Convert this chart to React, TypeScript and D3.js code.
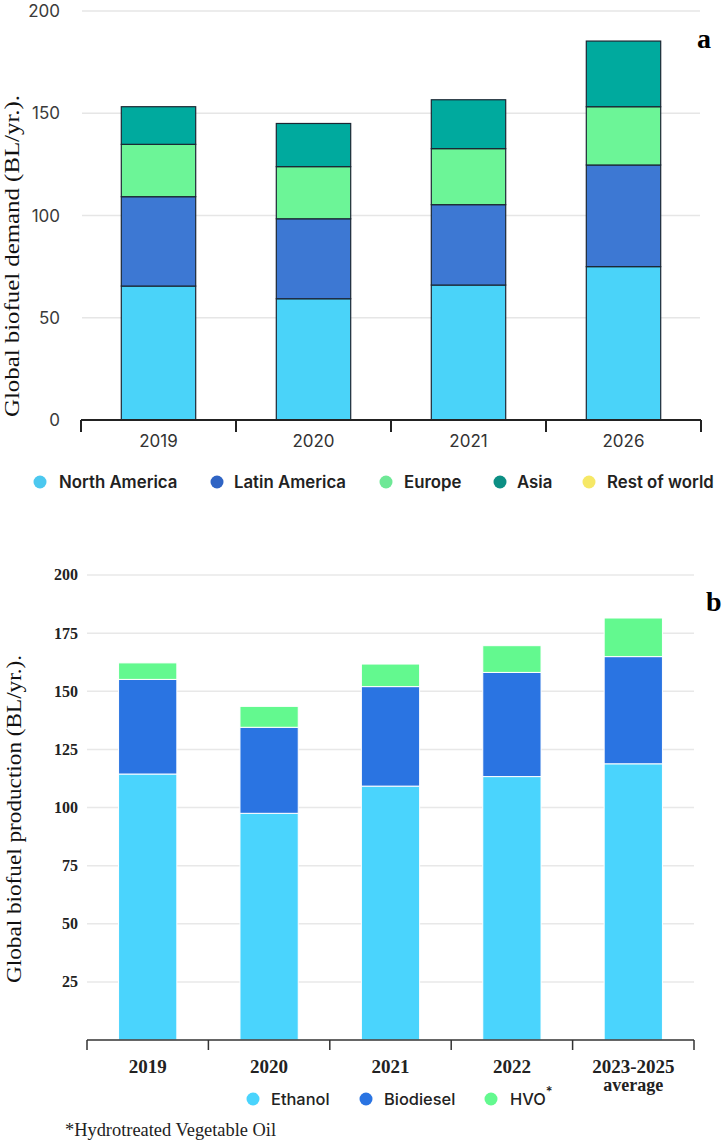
import React from "react";
import * as d3 from "d3";

// ---- Panel a: Global biofuel demand by region ----
const yearsA = ["2019", "2020", "2021", "2026"];
const regions = ["North America", "Latin America", "Europe", "Asia", "Rest of world"];
const northAmerica = [65.5, 59.3, 66, 75];
const latinAmerica = [43.7, 39.1, 39.3, 49.7];
const europe = [25.6, 25.5, 27.4, 28.5];
const asia = [18.4, 21.1, 23.9, 32.1];
const restOfWorld = [0, 0, 0, 0];
const ticksA = [0, 50, 100, 150, 200];
const regionColors = ["#4ad3f9", "#3d78d3", "#6cf597", "#00aa9e", "#f8e55c"];
const regionLegendColors = ["#4cc8ef", "#2f64c4", "#6ee896", "#0c8f84", "#f6e866"];

// ---- Panel b: Global biofuel production by fuel ----
const yearsB = ["2019", "2020", "2021", "2022", "2023-2025"];
const fuels = ["Ethanol", "Biodiesel", "HVO"];
const ethanol = [114.4, 97.5, 109.2, 113.3, 118.8];
const biodiesel = [40.7, 37.0, 42.8, 44.8, 46.1];
const hvo = [7.1, 9.0, 9.7, 11.5, 16.6];
const ticksB = [25, 50, 75, 100, 125, 150, 175, 200];
const fuelColors = ["#4ad4fd", "#2a74e2", "#63f98f"];

const SANS = "Inter, 'Open Sans', sans-serif";
const SERIF = "'Liberation Serif', 'Times New Roman', serif";

export default function App() {
  // Panel a scales
  const xA = d3.scaleBand<string>().domain(yearsA).range([81, 701]).paddingInner(0.52).paddingOuter(0.26);
  const yA = d3.scaleLinear().domain([0, 200]).range([420, 11]);
  const rowsA = yearsA.map((y, i) => ({
    year: y,
    "North America": northAmerica[i],
    "Latin America": latinAmerica[i],
    Europe: europe[i],
    Asia: asia[i],
    "Rest of world": restOfWorld[i],
  }));
  const stackA = d3.stack<any>().keys(regions)(rowsA);
  const stepA = xA.step();
  const boundsA = d3.range(yearsA.length + 1).map((i) => 81 + i * stepA);

  // Panel b scales
  const xB = d3.scaleBand<string>().domain(yearsB).range([87, 694]).paddingInner(0.52).paddingOuter(0.26);
  const yB = d3.scaleLinear().domain([0, 200]).range([1040, 575]);
  const rowsB = yearsB.map((y, i) => ({ year: y, Ethanol: ethanol[i], Biodiesel: biodiesel[i], HVO: hvo[i] }));
  const stackB = d3.stack<any>().keys(fuels)(rowsB);
  const stepB = xB.step();
  const boundsB = d3.range(yearsB.length + 1).map((i) => 87 + i * stepB);

  const legendA = [
    { cx: 40, tx: 59 },
    { cx: 217, tx: 234 },
    { cx: 386, tx: 404 },
    { cx: 500, tx: 517 },
    { cx: 589, tx: 607 },
  ];
  const legendB = [
    { cx: 253, tx: 271 },
    { cx: 366, tx: 384 },
    { cx: 491, tx: 510 },
  ];

  return (
    <svg
      width={724}
      height={1143}
      style={{ position: "absolute", left: 0, top: 0, background: "#fff" }}
    >
      {/* ===== Panel a ===== */}
      <g>
        {ticksA.filter((t) => t > 0).map((t) => (
          <line key={t} x1={82} x2={700} y1={yA(t)} y2={yA(t)} stroke="#e6e6e6" strokeWidth={1.5} />
        ))}
        {ticksA.map((t) => (
          <text key={t} x={60} y={yA(t)} dy="0.36em" textAnchor="end" fontFamily={SANS} fontSize={17} fill="#3a3a3a">
            {t}
          </text>
        ))}
        {stackA.map((s, k) => (
          <g key={s.key}>
            {s.map((d, i) => (
              <rect
                key={i}
                x={xA(yearsA[i])}
                y={yA(d[1])}
                width={xA.bandwidth()}
                height={yA(d[0]) - yA(d[1])}
                fill={regionColors[k]}
                stroke="#1c2733"
                strokeWidth={1.2}
              />
            ))}
          </g>
        ))}
        <line x1={81} x2={701} y1={420} y2={420} stroke="#222" strokeWidth={2} />
        {boundsA.map((b, i) => (
          <line key={i} x1={b} x2={b} y1={420} y2={432} stroke="#222" strokeWidth={2} />
        ))}
        {yearsA.map((y) => (
          <text key={y} x={xA(y)! + xA.bandwidth() / 2} y={447} textAnchor="middle" fontFamily={SANS} fontSize={17} fill="#333">
            {y}
          </text>
        ))}
        <text
          transform="translate(19,256) rotate(-90)"
          textAnchor="middle"
          fontFamily={SERIF}
          fontSize={22}
          textLength={322}
          lengthAdjust="spacingAndGlyphs"
          fill="#111"
        >
          Global biofuel demand (BL/yr.).
        </text>
        <text x={697} y={48} fontFamily={SERIF} fontWeight="bold" fontSize={28} fill="#000">
          a
        </text>
        {regions.map((r, i) => (
          <g key={r}>
            <circle cx={legendA[i].cx} cy={482} r={6.5} fill={regionLegendColors[i]} />
            <text x={legendA[i].tx} y={482} dy="0.36em" fontFamily={SANS} fontWeight={600} fontSize={16.8} fill="#222">
              {r}
            </text>
          </g>
        ))}
      </g>

      {/* ===== Panel b ===== */}
      <g>
        {ticksB.map((t) => (
          <line key={t} x1={87} x2={694} y1={yB(t)} y2={yB(t)} stroke="#e8e8e8" strokeWidth={1.5} />
        ))}
        {ticksB.map((t) => (
          <text key={t} x={78} y={yB(t)} dy="0.34em" textAnchor="end" fontFamily={SERIF} fontWeight="bold" fontSize={16} fill="#222">
            {t}
          </text>
        ))}
        {stackB.map((s, k) => (
          <g key={s.key}>
            {s.map((d, i) => (
              <rect
                key={i}
                x={xB(yearsB[i])}
                y={yB(d[1])}
                width={xB.bandwidth()}
                height={yB(d[0]) - yB(d[1])}
                fill={fuelColors[k]}
                stroke="#ffffff"
                strokeWidth={1}
              />
            ))}
          </g>
        ))}
        <line x1={87} x2={694} y1={1040} y2={1040} stroke="#333" strokeWidth={1.5} />
        {boundsB.map((b, i) => (
          <line key={i} x1={b} x2={b} y1={1040} y2={1050} stroke="#333" strokeWidth={1.5} />
        ))}
        {yearsB.map((y) => (
          <text key={y} x={xB(y)! + xB.bandwidth() / 2} y={1073} textAnchor="middle" fontFamily={SERIF} fontWeight="bold" fontSize={19} fill="#222">
            {y}
          </text>
        ))}
        <text x={xB("2023-2025")! + xB.bandwidth() / 2} y={1091} textAnchor="middle" fontFamily={SERIF} fontWeight="bold" fontSize={18} fill="#222">
          average
        </text>
        <text
          transform="translate(21,819) rotate(-90)"
          textAnchor="middle"
          fontFamily={SERIF}
          fontSize={22}
          textLength={328}
          lengthAdjust="spacingAndGlyphs"
          fill="#111"
        >
          Global biofuel production (BL/yr.).
        </text>
        <text x={706} y={611} fontFamily={SERIF} fontWeight="bold" fontSize={28} fill="#000">
          b
        </text>
        {fuels.map((f, i) => (
          <g key={f}>
            <circle cx={legendB[i].cx} cy={1099} r={6.5} fill={fuelColors[i]} />
            <text x={legendB[i].tx} y={1099} dy="0.36em" fontFamily={SANS} fontWeight={500} fontSize={16.4} fill="#222">
              {f}
              {f === "HVO" ? (
                <tspan dy="-0.7em" fontSize={13}>*</tspan>
              ) : null}
            </text>
          </g>
        ))}
        <text x={65} y={1136} fontFamily={SERIF} fontSize={18.4} fill="#222">
          *Hydrotreated Vegetable Oil
        </text>
      </g>
    </svg>
  );
}
